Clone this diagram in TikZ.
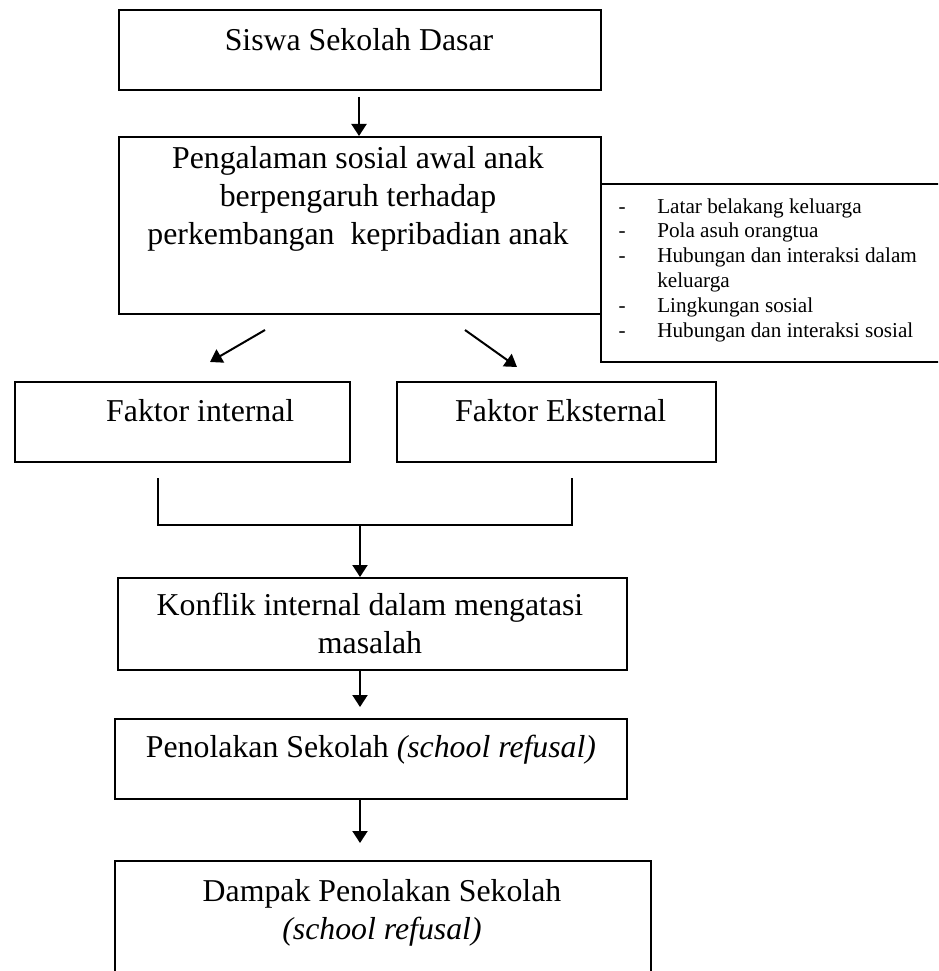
\documentclass[tikz,border=0pt]{standalone}
\usepackage{fontspec}
\setmainfont{Liberation Serif}
\usetikzlibrary{arrows.meta}
\newcommand\mylines[1]{\begin{tabular}[t]{@{}c@{}}#1\end{tabular}}
\begin{document}
\begin{tikzpicture}[x=1pt,y=-1pt,
  box/.style={draw, line width=1.8pt, inner sep=0pt, anchor=north west},
  txt/.style={inner sep=0pt, anchor=base, font=\fontsize{31.8}{38}\selectfont},
  small/.style={inner sep=0pt, anchor=base west, font=\fontsize{21.2}{24.8}\selectfont},
  arr/.style={line width=2pt, -{Triangle[length=12pt,width=15pt]}},
  ln/.style={line width=1.8pt}]
\clip (0,0) rectangle (938,971);
% boxes
\node[box, minimum width=482pt, minimum height=80pt] (b1) at (118,9) {};
\node[box, minimum width=482pt, minimum height=177pt] (b2) at (118,136) {};
\node[box, minimum width=360pt, minimum height=178pt] (side) at (600,183) {};
\node[box, minimum width=335pt, minimum height=80pt] (fi) at (14,381) {};
\node[box, minimum width=319pt, minimum height=80pt] (fe) at (396,381) {};
\node[box, minimum width=509pt, minimum height=92pt] (b5) at (117,577) {};
\node[box, minimum width=512pt, minimum height=80pt] (b6) at (114,718) {};
\node[box, minimum width=536pt, minimum height=130pt] (b7) at (114,860) {};
% texts
\node[txt] (t1) at (359,51) {Siswa Sekolah Dasar};
\node[txt] (t2) at (358,168) {\mylines{Pengalaman sosial awal anak\\berpengaruh terhadap\\perkembangan\ \ kepribadian anak}};
\node[small] (ts) at (618.5,213) {\begin{tabular}[t]{@{}l@{\hspace{31.5pt}}l@{}}
- & Latar belakang keluarga\\
- & Pola asuh orangtua\\
- & Hubungan dan interaksi dalam\\
 & keluarga\\
- & Lingkungan sosial\\
- & Hubungan dan interaksi sosial
\end{tabular}};
\node[txt, anchor=base west] (tfi) at (106,421) {Faktor internal};
\node[txt, anchor=base west] (tfe) at (455,421) {Faktor Eksternal};
\node[txt] (t5) at (370,615) {\mylines{Konflik internal dalam mengatasi\\masalah}};
\node[txt] (t6) at (371,757) {Penolakan Sekolah \textit{(school refusal)}};
\node[txt] (t7) at (382,901) {\mylines{Dampak Penolakan Sekolah\\\textit{(school refusal)}}};
% connectors
\coordinate (a1s) at (359,97);
\draw[arr] (a1s) -- (a1s |- b2.north);
\coordinate (dls) at (265,330);
\coordinate (dle) at (210,362);
\draw[arr] (dls) -- (dle);
\coordinate (drs) at (465,330);
\coordinate (dre) at (517,367);
\draw[arr] (drs) -- (dre);
\coordinate (bl) at (158,478);
\coordinate (br) at (572,478);
\coordinate (bm) at (360,525);
\draw[ln] (bl) -- (bl |- bm) -- (br |- bm) -- (br);
\draw[arr] (bm) -- (bm |- b5.north);
\coordinate (a3e) at (360,707);
\draw[arr] (b5.south -| a3e) -- (a3e);
\coordinate (a4e) at (360,843);
\draw[arr] (b6.south -| a4e) -- (a4e);
\end{tikzpicture}
\end{document}
